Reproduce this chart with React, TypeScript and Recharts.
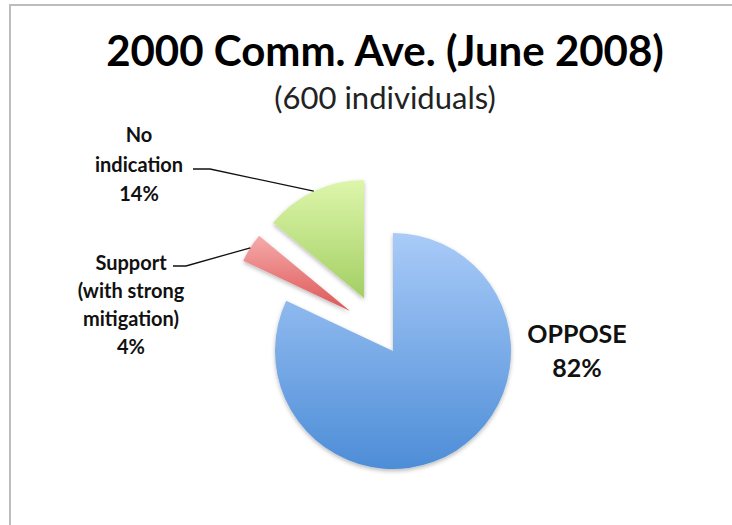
import React from 'react';
import { PieChart, Pie, Cell } from 'recharts';

// ---- data ----
const categories = ['OPPOSE', 'Support (with strong mitigation)', 'No indication'];
const percents = [82, 4, 14];
const labelNameLines = [['OPPOSE'], ['Support', '(with strong', 'mitigation)'], ['No', 'indication']];
const titleText = '2000 Comm. Ave. (June 2008)';
const subtitleText = '(600 individuals)';

const data = categories.map((name, i) => ({ name, value: percents[i] }));

// ---- style / layout ----
const FONT = 'Lato, "Open Sans", sans-serif';
const RADIUS = 118;
const LAYOUT = [
  { cx: 393, cy: 351, grad: 'gBlue', text: { x: 577, y0: 343, step: 34, fs: 25 }, leader: null },
  { cx: 350, cy: 311, grad: 'gRed', text: { x: 131, y0: 270, step: 28, fs: 20 }, leader: { x: 173, y: 266, h: 186 } },
  { cx: 364, cy: 298, grad: 'gGreen', text: { x: 139, y0: 142, step: 29.5, fs: 20 }, leader: { x: 193, y: 169, h: 210 } },
];

const RAD = Math.PI / 180;

const makeLabel = (k: number) => (props: any) => {
  if (props.index !== k) return null;
  const L = LAYOUT[k];
  const lines = [...labelNameLines[k], `${percents[k]}%`];
  const ex = props.cx + props.outerRadius * Math.cos(-props.midAngle * RAD);
  const ey = props.cy + props.outerRadius * Math.sin(-props.midAngle * RAD);
  return (
    <g>
      {L.leader && (
        <polyline
          points={`${L.leader.x},${L.leader.y} ${L.leader.h},${L.leader.y} ${ex},${ey}`}
          fill="none"
          stroke="#111"
          strokeWidth={1.3}
        />
      )}
      <text textAnchor="middle" fontFamily={FONT} fontWeight={700} fontSize={L.text.fs} fill="#111">
        {lines.map((t, i) => (
          <tspan key={i} x={L.text.x} y={L.text.y0 + i * L.text.step}>
            {t}
          </tspan>
        ))}
      </text>
    </g>
  );
};

export default function App() {
  return (
    <div style={{ position: 'absolute', left: 0, top: 0, width: 732, height: 525, overflow: 'hidden', background: '#fff' }}>
      <div
        style={{
          position: 'absolute',
          left: 9,
          top: 4,
          width: 760,
          height: 560,
          border: '2px solid #bdbdbd',
          boxSizing: 'border-box',
        }}
      />
      <svg width={732} height={525} style={{ position: 'absolute', left: 0, top: 0 }}>
        <text x={385} y={66} textAnchor="middle" fontFamily={FONT} fontWeight={700} fontSize={42} fill="#000">
          {titleText}
        </text>
        <text x={385} y={109} textAnchor="middle" fontFamily={FONT} fontSize={31} fill="#222">
          {subtitleText}
        </text>
      </svg>
      <div style={{ position: 'absolute', left: 0, top: 0 }}>
        <PieChart width={732} height={525} margin={{ top: 0, right: 0, bottom: 0, left: 0 }}>
          <defs>
            <linearGradient id="gBlue" x1="0" y1="0" x2="0" y2="1">
              <stop offset="0%" stopColor="#a9cbf8" />
              <stop offset="100%" stopColor="#4d8dd7" />
            </linearGradient>
            <linearGradient id="gRed" x1="0" y1="0" x2="0" y2="1">
              <stop offset="0%" stopColor="#f5abab" />
              <stop offset="100%" stopColor="#de5656" />
            </linearGradient>
            <linearGradient id="gGreen" x1="0" y1="0" x2="0" y2="1">
              <stop offset="0%" stopColor="#ddf6ab" />
              <stop offset="100%" stopColor="#a3cf63" />
            </linearGradient>
            <filter id="shadow" x="-20%" y="-20%" width="140%" height="140%">
              <feDropShadow dx="0" dy="2" stdDeviation="2" floodColor="#000" floodOpacity="0.28" />
            </filter>
          </defs>
          {LAYOUT.map((L, k) => (
            <Pie
              key={k}
              data={data}
              dataKey="value"
              nameKey="name"
              cx={L.cx}
              cy={L.cy}
              outerRadius={RADIUS}
              startAngle={90}
              endAngle={-270}
              stroke="none"
              isAnimationActive={false}
              label={makeLabel(k)}
              labelLine={false}
            >
              {data.map((e, i) => (
                <Cell
                  key={i}
                  fill={i === k ? `url(#${L.grad})` : 'none'}
                  stroke="none"
                  style={i === k ? { filter: 'url(#shadow)' } : undefined}
                />
              ))}
            </Pie>
          ))}
        </PieChart>
      </div>
    </div>
  );
}
